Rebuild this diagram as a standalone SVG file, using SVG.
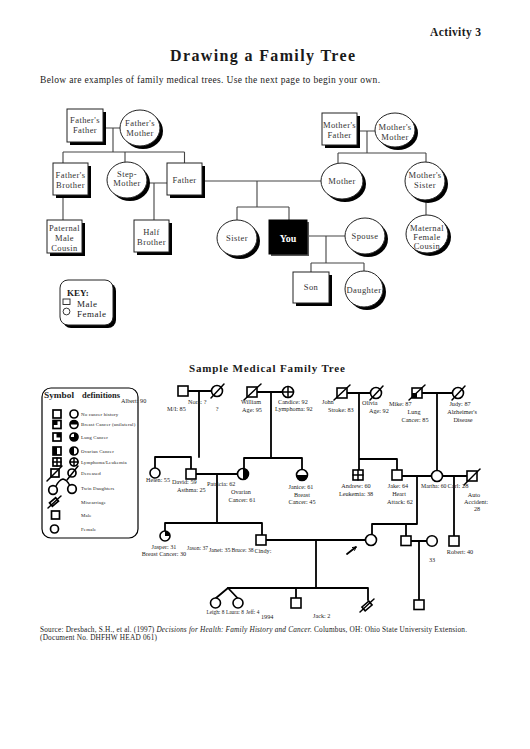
<svg xmlns="http://www.w3.org/2000/svg" width="530" height="749" viewBox="0 0 530 749">
<defs>
<marker id="ah" viewBox="0 0 10 10" refX="8" refY="5" markerWidth="5" markerHeight="5" orient="auto" markerUnits="userSpaceOnUse">
<path d="M1,1 L8,5 L1,9" fill="none" stroke="#000" stroke-width="1.8"/>
</marker>
</defs>
<style>
text{font-family:"Liberation Serif","Times New Roman",serif;fill:#1a1a1a}
.hd{font-weight:bold}
.lb{font-size:8.5px;letter-spacing:0.4px;text-anchor:middle;fill:#333}
.sh{fill:#000}
.nd{fill:#fff;stroke:#222;stroke-width:1}
.cn{fill:none;stroke:#444;stroke-width:1.1}
.pl{fill:none;stroke:#000;stroke-width:1.8;stroke-linecap:round}
.ps{fill:#fff;stroke:#000;stroke-width:1.6}
.pf{fill:#000}
.sl{stroke:#000;stroke-width:1.5;fill:none;stroke-linecap:round}
.t{font-size:6.2px;fill:#222}
.ts{font-size:5.3px;fill:#222}
.tm{font-size:6.2px;fill:#222;text-anchor:middle}
.lg{font-size:4.9px;fill:#222;letter-spacing:0.15px}
.ls{fill:#fff;stroke:#000;stroke-width:1.7}
</style>
<rect width="530" height="749" fill="#fff"/>

<!-- headings -->
<text x="430" y="36" class="hd" font-size="11.5" textLength="51" lengthAdjust="spacing">Activity 3</text>
<text x="170" y="61" class="hd" font-size="16" textLength="185" lengthAdjust="spacing">Drawing a Family Tree</text>
<text x="40" y="83" font-size="9.5" fill="#333" textLength="340" lengthAdjust="spacing">Below are examples of family medical trees. Use the next page to begin your own.</text>

<!-- top tree connectors -->
<g id="connectors-top" class="cn">
<path d="M103,128 H120 M113,128 V152 M63,152 H184.5 M63,152 V163 M125,152 V162 M184.5,152 V163"/>
<path d="M63,195 V220"/>
<path d="M147,183 H167 M154,183 V220"/>
<path d="M202,181 H321 M257,181 V207 M237,207 H289 M237,207 V220 M289,207 V220"/>
<path d="M307,236 H345 M326,236 V263 M311,263 H364 M311,263 V272 M364,263 V271"/>
<path d="M357,131 H375 M367,131 V153 M338,153 H426 M338,153 V163.5 M426,153 V162"/>
<path d="M426,200 V215"/>
</g>

<!-- top tree nodes -->
<g id="fathers-father"><rect class="sh" x="70" y="112" width="36" height="33"/><rect class="nd" x="67" y="109" width="36" height="33"/><text class="lb" x="85" y="123">Father's</text><text class="lb" x="85" y="133">Father</text></g>
<g id="fathers-mother"><ellipse class="sh" cx="143" cy="131" rx="20" ry="18"/><ellipse class="nd" cx="140" cy="128" rx="20" ry="18"/><text class="lb" x="140" y="126">Father's</text><text class="lb" x="140" y="136">Mother</text></g>
<g id="fathers-brother"><rect class="sh" x="56" y="166" width="35" height="32"/><rect class="nd" x="53" y="163" width="35" height="32"/><text class="lb" x="70.5" y="178">Father's</text><text class="lb" x="70.5" y="188">Brother</text></g>
<g id="step-mother"><ellipse class="sh" cx="130" cy="183" rx="20" ry="18"/><ellipse class="nd" cx="127" cy="180" rx="20" ry="18"/><text class="lb" x="127" y="177">Step-</text><text class="lb" x="127" y="186">Mother</text></g>
<g id="father"><rect class="sh" x="170" y="166" width="35" height="32"/><rect class="nd" x="167" y="163" width="35" height="32"/><text class="lb" x="184.5" y="183">Father</text></g>
<g id="paternal-male-cousin"><rect class="sh" x="50" y="223" width="35" height="33"/><rect class="nd" x="47" y="220" width="35" height="33"/><text class="lb" x="64.5" y="231">Paternal</text><text class="lb" x="64.5" y="241">Male</text><text class="lb" x="64.5" y="251">Cousin</text></g>
<g id="half-brother"><rect class="sh" x="137" y="223" width="35" height="32"/><rect class="nd" x="134" y="220" width="35" height="32"/><text class="lb" x="151.5" y="235">Half</text><text class="lb" x="151.5" y="245">Brother</text></g>
<g id="sister"><ellipse class="sh" cx="240" cy="241" rx="20" ry="18"/><ellipse class="nd" cx="237" cy="238" rx="20" ry="18"/><text class="lb" x="237" y="241">Sister</text></g>
<g id="you"><rect fill="#555" x="271" y="222" width="38" height="34"/><rect fill="#000" stroke="#000" x="269" y="220" width="38" height="34"/><text x="288" y="242" font-size="10" class="hd" text-anchor="middle" style="fill:#fff">You</text></g>
<g id="spouse"><ellipse class="sh" cx="368" cy="239" rx="20" ry="18"/><ellipse class="nd" cx="365" cy="236" rx="20" ry="18"/><text class="lb" x="365" y="239">Spouse</text></g>
<g id="son"><rect class="sh" x="296" y="275" width="36" height="31"/><rect class="nd" x="293" y="272" width="36" height="31"/><text class="lb" x="311" y="290">Son</text></g>
<g id="daughter"><ellipse class="sh" cx="367" cy="292" rx="19" ry="18"/><ellipse class="nd" cx="364" cy="289" rx="19" ry="18"/><text class="lb" x="364" y="293" letter-spacing="0.2">Daughter</text></g>
<g id="mothers-father"><rect class="sh" x="325" y="116" width="35" height="32"/><rect class="nd" x="322" y="113" width="35" height="32"/><text class="lb" x="339.5" y="128">Mother's</text><text class="lb" x="339.5" y="138">Father</text></g>
<g id="mothers-mother"><ellipse class="sh" cx="398" cy="133" rx="20" ry="17"/><ellipse class="nd" cx="395" cy="130" rx="20" ry="17"/><text class="lb" x="395" y="130">Mother's</text><text class="lb" x="395" y="140">Mother</text></g>
<g id="mother"><ellipse class="sh" cx="345" cy="184" rx="21" ry="18"/><ellipse class="nd" cx="342" cy="181" rx="21" ry="18"/><text class="lb" x="342" y="184">Mother</text></g>
<g id="mothers-sister"><ellipse class="sh" cx="428" cy="184" rx="20" ry="19"/><ellipse class="nd" cx="425" cy="181" rx="20" ry="19"/><text class="lb" x="425" y="178">Mother's</text><text class="lb" x="425" y="188">Sister</text></g>
<g id="maternal-female-cousin"><ellipse class="sh" cx="430" cy="237" rx="21" ry="19"/><ellipse class="nd" cx="427" cy="234" rx="21" ry="19"/><text class="lb" x="427" y="231">Maternal</text><text class="lb" x="427" y="240">Female</text><text class="lb" x="427" y="249">Cousin</text></g>

<g id="key"><rect class="sh" x="63" y="283" width="53" height="45" rx="8"/><rect class="nd" x="60" y="280" width="53" height="45" rx="8"/>
<text x="67" y="296" class="hd" font-size="9">KEY:</text>
<rect x="63" y="299" width="7" height="5.5" fill="none" stroke="#222" stroke-width="0.9"/>
<text x="77" y="307" font-size="9" letter-spacing="0.5" fill="#333">Male</text>
<circle cx="66.5" cy="311.5" r="3.4" fill="none" stroke="#222" stroke-width="0.9"/>
<text x="77" y="317" font-size="9" letter-spacing="0.5" fill="#333">Female</text></g>

<!-- Sample tree title -->
<text x="189" y="372" class="hd" font-size="11" textLength="156" lengthAdjust="spacing">Sample Medical Family Tree</text>

<!-- Symbol definitions legend -->
<g id="legend">
<rect x="42" y="388" width="96" height="150" rx="9" fill="#fff" stroke="#000" stroke-width="1.2"/>
<text x="44" y="398" class="hd" font-size="8.3" textLength="30" lengthAdjust="spacingAndGlyphs">Symbol</text>
<text x="82" y="398" class="hd" font-size="8.3" textLength="38" lengthAdjust="spacingAndGlyphs">definitions</text>
<!-- row 1 -->
<rect class="ls" x="53" y="410" width="8" height="8"/><circle class="ls" cx="74" cy="414" r="4"/>
<text class="lg" x="81" y="415.5">No cancer history</text>
<!-- row 2 breast -->
<rect class="ls" x="53" y="420.5" width="8" height="8"/><rect class="pf" x="53" y="420.5" width="4.5" height="4.5"/>
<circle class="ls" cx="74" cy="424.5" r="4"/><path class="pf" d="M74,424.5 V420.5 A4,4 0 0 1 78,424.5 Z"/><path class="pf" d="M74,424.5 H70 A4,4 0 0 1 74,420.5 Z"/>
<text class="lg" x="81" y="426">Breast Cancer (unilateral)</text>
<!-- row 3 lung -->
<rect class="ls" x="53" y="433" width="8" height="8"/><rect class="pf" x="56.5" y="433" width="4.5" height="4.5"/>
<circle class="ls" cx="74" cy="437" r="4"/><path class="pf" d="M74,433 A4,4 0 0 1 74,441 Z"/><path class="pf" d="M74,437 V441 A4,4 0 0 1 70,437 Z"/>
<text class="lg" x="81" y="438.5">Lung Cancer</text>
<!-- row 4 ovarian -->
<rect class="ls" x="53" y="447" width="8" height="8"/><rect class="pf" x="53" y="447" width="4" height="8"/>
<circle class="ls" cx="74" cy="451" r="4"/><path class="pf" d="M74,447 A4,4 0 0 0 74,455 Z"/>
<text class="lg" x="81" y="452.5">Ovarian Cancer</text>
<!-- row 5 lymphoma -->
<rect class="ls" x="53" y="458" width="8" height="8"/><path class="sl" d="M57,458 V466 M53,462 H61"/>
<circle class="ls" cx="74" cy="462" r="4"/><path class="sl" d="M74,458 V466 M70,462 H78"/>
<text class="lg" x="81" y="463.5">Lymphoma/Leukemia</text>
<!-- row 6 deceased -->
<rect class="ls" x="51" y="469" width="8" height="8"/><path class="sl" d="M47,481 L62,466"/>
<circle class="ls" cx="72" cy="473" r="4"/><path class="sl" d="M67,480 L78,466"/>
<text class="lg" x="81" y="474.5">Deceased</text>
<!-- row 7 twins -->
<circle class="ls" cx="53" cy="490" r="4.3"/><circle class="ls" cx="72" cy="489" r="4.3"/>
<path class="sl" d="M56,486 Q59,480 63,479 Q67,480 69.5,485" stroke-width="1.7"/>
<text class="lg" x="81" y="489.5">Twin Daughters</text>
<!-- row 8 miscarriage -->
<rect class="ls" x="-4" y="-2.2" width="8" height="4.4" transform="translate(54,502) rotate(-40)"/><path class="sl" d="M48,508 L61,496"/>
<text class="lg" x="81" y="503.5">Miscarriage</text>
<!-- row 9 male -->
<rect class="ls" x="51.5" y="511" width="8" height="8"/>
<text class="lg" x="81" y="516.5">Male</text>
<!-- row 10 female -->
<circle class="ls" cx="54.5" cy="529" r="4"/>
<text class="lg" x="81" y="530.5">Female</text>
</g>

<!-- sample tree connectors -->
<g id="connectors-sample" class="pl">
<path d="M188,391 H211.5 M199,391 V457 M155,457 H191 M155,457 V468 M191,457 V469"/>
<path d="M257,392 H282.5 M271,392 V458 M244,458 H302 M244,458 V468.5 M302,458 V469.5"/>
<path d="M196,474 H237.5 M217,474 V523 M165,523 H262 M165,523 V531 M262,523 V535"/>
<path d="M347,393 H370.5 M359,393 V470 M359,459 H397 M397,459 V470"/>
<path d="M422,393 H452.5 M437,393 V470.5"/>
<path d="M402,476 H431.5 M442.5,476 H467 M417,476 V524 M372,524 H417 M372,524 V534.5 M406,524 V536 M454,476 V536"/>
<path d="M266,540 H365 M316,540 V588 M228,588 H368 M296,588 V598 M368,588 V600"/>
<path d="M228,588 L216,598 M228,588 L237.5,598"/>
<path d="M410.5,541 H426.5 M419,541 V600"/>
<path d="M347,554 L356,547" marker-end="url(#ah)"/>
</g>

<!-- sample tree people -->
<g id="albert"><rect class="ps" x="178" y="386" width="10" height="10"/><text class="t" x="121" y="403">Albert: 90</text></g>
<g id="nora"><circle class="ps" cx="217" cy="391" r="5.5"/><path class="sl" d="M211,398 L224,384"/><text class="t" x="188" y="404">Nora: ?</text><text class="tm" x="217" y="411">?</text></g>
<text class="t" x="167" y="411">M/I: 85</text>
<g id="william"><rect class="ps" x="247" y="387" width="10" height="10"/><path class="sl" d="M244,400 L261,384"/><text class="tm" x="251" y="404">William</text><text class="tm" x="252" y="411.5">Age: 95</text></g>
<g id="candice"><circle class="ps" cx="288" cy="392" r="5.5"/><path class="sl" d="M288,386.5 V397.5 M282.5,392 H293.5"/><text class="t" x="278" y="404">Candice: 92</text><text class="t" x="275" y="411">Lymphoma: 92</text></g>
<g id="john"><rect class="ps" x="337" y="388" width="10" height="10"/><path class="sl" d="M334,400 L350,385"/><text class="t" x="322" y="403.5">John</text><text class="t" x="328" y="412">Stroke: 83</text></g>
<g id="olivia"><circle class="ps" cx="376" cy="393" r="5.5"/><path class="sl" d="M370,400 L383,386"/><text class="t" x="362" y="405">Olivia</text><text class="t" x="369" y="413">Age: 92</text></g>
<g id="mike"><rect class="ps" x="412" y="388" width="10" height="10"/><rect class="pf" x="412" y="393" width="5" height="5"/><path class="sl" d="M409,400 L425,385"/><text class="t" x="389" y="406">Mike: 87</text><text class="tm" x="414" y="414">Lung</text><text class="tm" x="415" y="422">Cancer: 85</text></g>
<g id="judy"><circle class="ps" cx="458" cy="393" r="5.5"/><path class="sl" d="M452,400 L465,386"/><text class="tm" x="460" y="406">Judy: 87</text><text class="tm" x="462" y="414">Alzheimer's</text><text class="tm" x="463" y="422">Disease</text></g>

<g id="helen"><circle class="ps" cx="155" cy="473" r="5"/><text class="t" x="146" y="482" textLength="24" lengthAdjust="spacingAndGlyphs">Helen: 55</text></g>
<g id="david"><rect class="ps" x="186" y="469" width="10" height="10"/><text class="t" x="172" y="484">David: 59</text><text class="t" x="177" y="492">Asthma: 25</text></g>
<g id="patricia"><circle class="ps" cx="243" cy="474" r="5.5"/><path class="pf" d="M243,468.5 A5.5,5.5 0 0 1 243,479.5 Z"/><text class="t" x="207" y="486">Patricia: 62</text><text class="tm" x="241" y="494">Ovarian</text><text class="tm" x="242" y="502">Cancer: 61</text></g>
<g id="janice"><circle class="ps" cx="302" cy="475" r="5.5"/><path class="pf" d="M302,475 H307.5 A5.5,5.5 0 0 1 302,480.5 Z"/><path class="pf" d="M302,475 V480.5 A5.5,5.5 0 0 1 296.5,475 Z"/><text class="tm" x="301" y="489">Janice: 61</text><text class="tm" x="302" y="496.5">Breast</text><text class="tm" x="302" y="504">Cancer: 45</text></g>
<g id="andrew"><rect class="ps" x="353" y="470" width="10" height="10"/><path class="sl" d="M358,470 V480 M353,475 H363"/><text class="tm" x="356" y="488">Andrew: 60</text><text class="tm" x="356" y="496">Leukemia: 38</text></g>
<g id="jake"><rect class="ps" x="392" y="470" width="10" height="10"/><text class="tm" x="398" y="488">Jake: 64</text><text class="tm" x="399" y="496">Heart</text><text class="tm" x="400" y="503.5">Attack: 62</text></g>
<g id="martha"><circle class="ps" cx="437" cy="476" r="5.5"/><text class="t" x="421" y="488" textLength="25.5" lengthAdjust="spacingAndGlyphs">Martha: 60</text></g>
<g id="carl"><rect class="ps" x="467" y="471" width="10" height="10"/><path class="sl" d="M464,485 L480,469"/><text class="t" x="447.5" y="487.5" textLength="21" lengthAdjust="spacingAndGlyphs">Carl: 28</text><text class="tm" x="474" y="497">Auto</text><text class="tm" x="476" y="504">Accident:</text><text class="tm" x="477" y="511">28</text></g>

<g id="jasper"><circle class="ps" cx="165" cy="536" r="5"/><path class="pf" d="M165,536 V531 A5,5 0 0 1 170,536 Z"/><text class="tm" x="164" y="549">Jasper: 31</text><text class="tm" x="164" y="556">Breast Cancer: 30</text></g>
<g id="jason"><text class="t" x="187" y="550" textLength="21" lengthAdjust="spacingAndGlyphs">Jason: 37</text></g>
<g id="janet"><text class="t" x="209" y="552" textLength="21.5" lengthAdjust="spacingAndGlyphs">Janet: 35</text></g>
<g id="bruce"><rect class="ps" x="256" y="535" width="10" height="10"/><text class="t" x="231.5" y="552" textLength="22" lengthAdjust="spacingAndGlyphs">Bruce: 38</text></g>
<g id="cindy"><circle class="ps" cx="371" cy="540" r="5.5"/><text class="t" x="254.5" y="553">Cindy:</text></g>
<g id="son-jake"><rect class="ps" x="401" y="536" width="10" height="9.5"/></g>
<g id="son-spouse"><circle class="ps" cx="432" cy="541" r="5.3"/><text class="tm" x="432" y="562">33</text></g>
<g id="robert"><rect class="ps" x="449" y="536" width="10" height="10"/><text class="tm" x="460" y="554">Robert: 40</text></g>
<g id="grandson"><rect class="ps" x="414" y="600" width="10" height="9.5"/></g>
<g id="leigh"><circle class="ps" cx="215.5" cy="603" r="5"/><text class="ts" x="206.5" y="614">Leigh: 8</text></g>
<g id="laura"><circle class="ps" cx="238" cy="603" r="5"/><text class="ts" x="226" y="614">Laura: 8</text></g>
<g id="jeff"><text class="ts" x="246" y="614">Jeff: 4</text><text class="t" x="261" y="618.5">1994</text></g>
<g id="jack"><rect class="ps" x="291" y="598" width="10" height="10"/><text class="t" x="313" y="618">Jack: 2</text></g>
<g id="miscarriage"><rect class="ps" x="-4.5" y="-2.5" width="9" height="5" transform="translate(367,606) rotate(-40)"/><path class="sl" d="M360,612 L374,599"/></g>

<!-- source -->
<text x="40" y="632" font-size="7.3" fill="#333" textLength="427" lengthAdjust="spacing">Source: Dresbach, S.H., et al. (1997) <tspan font-style="italic">Decisions for Health: Family History and Cancer.</tspan> Columbus, OH: Ohio State University Extension.</text>
<text x="40" y="640" font-size="7.3" fill="#333" textLength="117" lengthAdjust="spacing">(Document No. DHFHW HEAD 061)</text>
</svg>
